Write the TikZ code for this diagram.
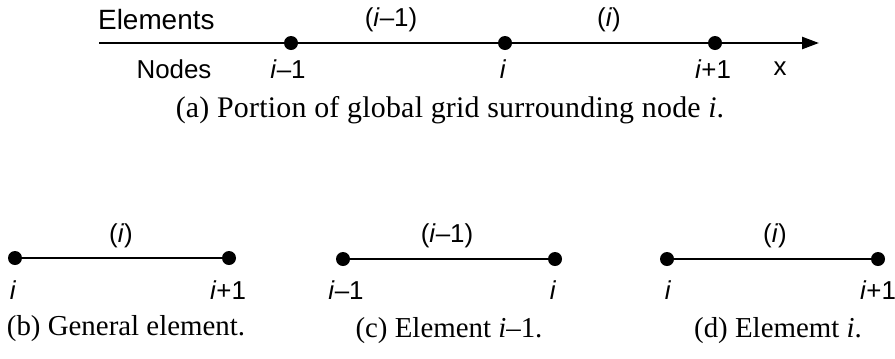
\documentclass[tikz,border=0pt]{standalone}
\usepackage{fontspec}
\setmainfont{Liberation Serif}
\newfontfamily\lsans{Liberation Sans}
\newfontfamily\serifwide[LetterSpace=0.8]{Liberation Serif}
\usetikzlibrary{arrows.meta}
\begin{document}
\begin{tikzpicture}[x=1bp,y=-1bp,
  dot/.style={circle,fill=black,inner sep=0pt,minimum size=14bp},
  seg/.style={line width=2.4bp},
  lab/.style={font=\lsans\fontsize{26}{30}\selectfont,inner sep=0pt},
  captxt/.style={font=\fontsize{29}{34}\selectfont,inner sep=0pt}]
\useasboundingbox (0,0) rectangle (895,358);
% (a) global grid
\coordinate (a0) at (99,43);
\coordinate (a1) at (819,43);
\draw[seg,-{Triangle[length=17bp,width=12bp]}] (a0) -- (a1);
\node[dot] (g1) at (291,43) {};
\node[dot] (g2) at (505,43) {};
\node[dot] (g3) at (715,43) {};
\node[lab,anchor=west,font=\lsans\fontsize{28}{32}\selectfont] (elem) at (98,20) {Elements};
\node[lab] (e1) at (391,20) {(\textit{i}–1)};
\node[lab] (e2) at (609,20) {(\textit{i})};
\node[lab] (nodes) at (174,69) {Nodes};
\node[lab] (l1) at (288,69) {\textit{i}–1};
\node[lab] (l2) at (503,69) {\textit{i}};
\node[lab] (l3) at (713,69) {\textit{i}+1};
\node[lab] (lx) at (780,69) {x};
\node[captxt,font=\serifwide\fontsize{30}{35}\selectfont] (capa) at (450,110) {(a) Portion of global grid surrounding node \textit{i}.};
% (b)
\node[dot] (b1) at (15,258) {};
\node[dot] (b2) at (229,258) {};
\draw[seg] (b1) -- (b2);
\node[lab] (be) at (121,236) {(\textit{i})};
\node[lab] (bl1) at (13,290) {\textit{i}};
\node[lab] (bl2) at (228,290) {\textit{i}+1};
\node[captxt] (capb) at (126,329) {(b) General element.};
% (c)
\node[dot] (c1) at (343,259) {};
\node[dot] (c2) at (555,259) {};
\draw[seg] (c1) -- (c2);
\node[lab] (ce) at (447,236) {(\textit{i}–1)};
\node[lab] (cl1) at (346,290) {\textit{i}–1};
\node[lab] (cl2) at (553,290) {\textit{i}};
\node[captxt] (capc) at (449,331) {(c) Element \textit{i}–1.};
% (d)
\node[dot] (d1) at (667,259) {};
\node[dot] (d2) at (878,259) {};
\draw[seg] (d1) -- (d2);
\node[lab] (de) at (775,236) {(\textit{i})};
\node[lab] (dl1) at (668,290) {\textit{i}};
\node[lab] (dl2) at (878,290) {\textit{i}+1};
\node[captxt] (capd) at (778,331) {(d) Elememt \textit{i}.};
\end{tikzpicture}
\end{document}
